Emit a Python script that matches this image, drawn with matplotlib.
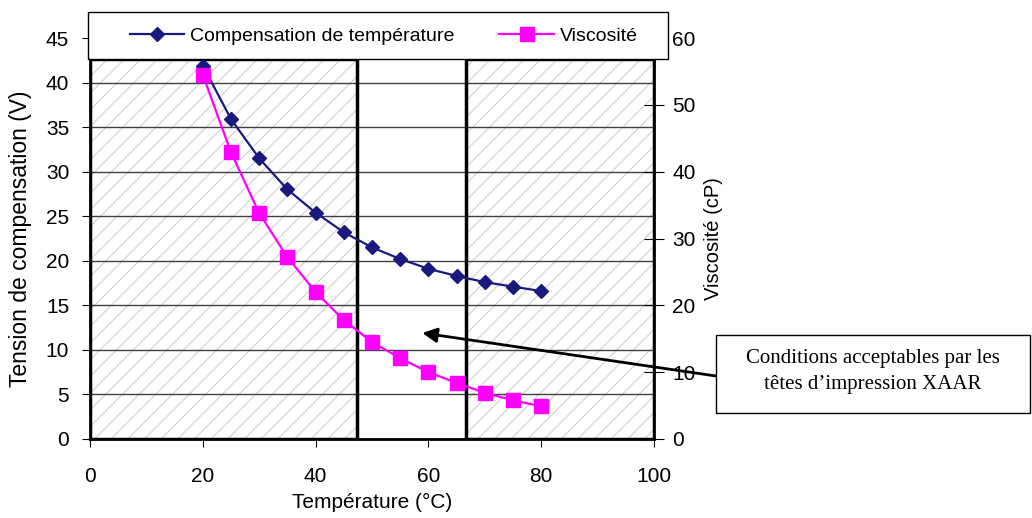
import matplotlib
matplotlib.use("Agg")
import matplotlib.pyplot as plt
from matplotlib.patches import Rectangle

plt.rcParams["font.family"] = ["Liberation Sans", "DejaVu Sans"]
plt.rcParams["hatch.linewidth"] = 0.8

# data
temperature = [20, 25, 30, 35, 40, 45, 50, 55, 60, 65, 70, 75, 80]
compensation = [41.9, 35.9, 31.5, 28.0, 25.4, 23.2, 21.5, 20.2, 19.1, 18.3, 17.6, 17.1, 16.6]
viscosite = [54.5, 42.9, 33.8, 27.2, 22.0, 17.8, 14.5, 12.1, 10.0, 8.4, 6.9, 5.8, 4.9]

# zones hachurées (température de début, fin) et hauteur en V
zones = [(0, 47.3), (66.7, 100)]
zone_top = 42.6

W, H = 1032, 518
fig = plt.figure(figsize=(W / 100, H / 100), dpi=100)
ax = fig.add_axes([90 / W, 1 - 439 / H, (654 - 90) / W, (439 - 38) / H])
ax2 = ax.twinx()

for x0, x1 in zones:
    ax.add_patch(Rectangle((x0, 0), x1 - x0, zone_top, facecolor="white",
                           edgecolor="#d0d0d0", hatch="//", lw=0, zorder=0))
    ax.add_patch(Rectangle((x0, 0), x1 - x0, zone_top, fill=False,
                           edgecolor="black", lw=2.5, zorder=3))

ax.set_xlim(0, 100)
ax.set_ylim(0, 45)
ax.set_xticks(range(0, 101, 20))
ax.set_yticks(range(0, 46, 5))
for y in range(5, 45, 5):
    ax.axhline(y, color="#404040", lw=1, zorder=1)

ax.plot(temperature, compensation, color="#1a1a7e", marker="D", ms=7,
        lw=1.6, zorder=4, label="Compensation de température")
ax2.plot(temperature, viscosite, color="#ff00ff", marker="s", ms=10,
         lw=1.6, zorder=4, label="Viscosité")
ax2.set_ylim(0, 60)
ax2.set_yticks(range(0, 61, 10))

for a in (ax, ax2):
    a.spines["top"].set_visible(False)
    a.tick_params(labelsize=15, colors="black")
ax.tick_params(axis="y", direction="out", length=6, pad=9)
ax.tick_params(axis="x", direction="out", length=6, pad=14)
ax2.tick_params(axis="y", direction="inout", length=14, pad=6)
ax.spines["left"].set_linewidth(2)
ax.spines["bottom"].set_linewidth(2)
ax2.spines["right"].set_linewidth(2)

ax.set_xlabel("Température (°C)", fontsize=15, labelpad=5)
ax.set_ylabel("Tension de compensation (V)", fontsize=16.5, labelpad=10)
ax2.set_ylabel("Viscosité (cP)", fontsize=14.5, labelpad=6)

# cadre de légende
fig.add_artist(Rectangle((88 / W, 1 - 59 / H), (668 - 88) / W, 47 / H,
                         transform=fig.transFigure, facecolor="white",
                         edgecolor="black", lw=1, zorder=5))
h1, l1 = ax.get_legend_handles_labels()
h2, l2 = ax2.get_legend_handles_labels()
leg = fig.legend(h1 + h2, l1 + l2, loc="center left",
                 bbox_to_anchor=(130 / W, 1 - 36 / H), ncol=2, frameon=False,
                 fontsize=14, handlelength=2.8, handletextpad=0.3,
                 columnspacing=2.3, borderpad=0, borderaxespad=0)
leg.set_zorder(6)

# annotation
fig.add_artist(Rectangle((716 / W, 1 - 413 / H), 314 / W, 78 / H,
                         transform=fig.transFigure, facecolor="white",
                         edgecolor="black", lw=1, zorder=5))
fig.text(873 / W, 1 - 371 / H,
         "Conditions acceptables par les\ntêtes d’impression XAAR",
         ha="center", va="center", fontsize=15, linespacing=1.5,
         family=["Liberation Serif", "DejaVu Serif"], zorder=6)
ax2.annotate("", xy=(58.9, 11.9 * 60 / 45), xycoords="data",
             xytext=(716, H - 376), textcoords="figure pixels",
             arrowprops=dict(arrowstyle="-|>", color="black", lw=2,
                             mutation_scale=22, shrinkA=0, shrinkB=0),
             annotation_clip=False)

fig.savefig("out.png", dpi=100)
